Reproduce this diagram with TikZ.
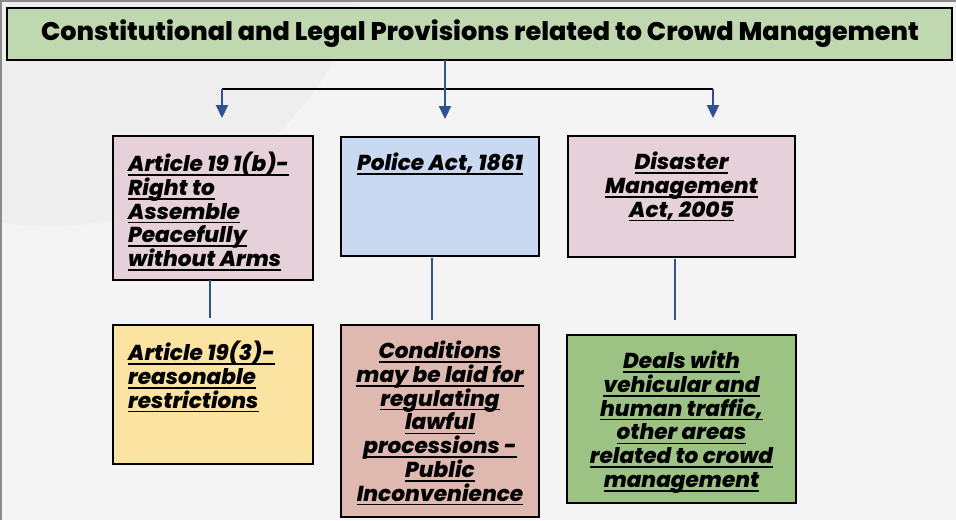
\documentclass[tikz,border=0pt]{standalone}
\usepackage{fontspec}
\setmainfont{Poppins}[BoldFont={Poppins ExtraBold}, BoldItalicFont={Poppins ExtraBold Italic}]
\usetikzlibrary{arrows.meta}
\definecolor{bgc}{HTML}{F4F4F4}
\definecolor{circc}{HTML}{EEEEEE}
\definecolor{framec}{HTML}{8A8A8A}
\definecolor{titlec}{HTML}{BFD8AF}
\definecolor{pinkc}{HTML}{E6D1DB}
\definecolor{bluec}{HTML}{C9D9F1}
\definecolor{yellowc}{HTML}{FBE4A1}
\definecolor{salmonc}{HTML}{DFB9AF}
\definecolor{greenc}{HTML}{9DC384}
\definecolor{arrc}{HTML}{2F5191}
\newsavebox{\ulbox}
\newcommand{\ulw}[1]{\sbox{\ulbox}{#1}\rlap{\rule[-4.2pt]{\wd\ulbox}{1.6pt}}\usebox{\ulbox}}
\tikzset{
  box/.style={draw=black, line width=2.4pt, inner sep=0pt, outer sep=0pt},
  txt/.style={inner sep=0pt, font=\bfseries\itshape\fontsize{21.6}{23.7}\selectfont},
  arr/.style={draw=arrc, line width=2.2pt, -{Triangle[width=12pt,length=13pt]}},
  con/.style={draw=arrc, line width=2.6pt}
}
\begin{document}
\begin{tikzpicture}[x=1pt,y=-1pt]
\useasboundingbox (0,0) rectangle (956,520);
\fill[bgc] (0,0) rectangle (956,520);
\begin{scope}
\clip (0,0) rectangle (956,520);
\fill[circc] (50,-100) circle (326);
\end{scope}
\draw[framec, line width=2pt] (1,520) -- (1,1) -- (956,1);
% title
\node[box, fill=titlec, minimum width=945, minimum height=52] (title) at (479.5,34) {};
\node[inner sep=0pt, font=\bfseries\fontsize{25.5}{28}\selectfont] (titletxt) at (480,34) {Constitutional and Legal Provisions related to Crowd Management};
% top boxes
\node[box, fill=pinkc, minimum width=200, minimum height=144] (a) at (213,208) {};
\node[box, fill=bluec, minimum width=198, minimum height=119] (b) at (440,196.5) {};
\node[box, fill=pinkc, minimum width=227, minimum height=121] (c) at (681.5,196.5) {};
% bottom boxes
\node[box, fill=yellowc, minimum width=200, minimum height=139] (d) at (213,394.5) {};
\node[box, fill=salmonc, minimum width=198, minimum height=192] (e) at (440,421) {};
\node[box, fill=greenc, minimum width=229, minimum height=168] (f) at (681.5,419) {};
% texts
\node[txt, align=left, anchor=north west] (at) at ([xshift=15pt,yshift=-16pt]a.north west)
  {\ulw{Article 19 1(b)-}\\\ulw{Right to}\\\ulw{Assemble}\\\ulw{Peacefully}\\\ulw{without Arms}};
\node[txt, align=center, anchor=north] (bt) at ([yshift=-16pt]b.north)
  {\ulw{Police Act, 1861}};
\node[txt, align=center, anchor=north] (ct) at ([yshift=-16pt]c.north)
  {\ulw{Disaster}\\\ulw{Management}\\\ulw{Act, 2005}};
\node[txt, align=left, anchor=north west] (dt) at ([xshift=15pt,yshift=-16pt]d.north west)
  {\ulw{Article 19(3)-}\\\ulw{reasonable}\\\ulw{restrictions}};
\node[txt, align=center, anchor=north] (et) at ([yshift=-16pt]e.north)
  {\ulw{Conditions}\\\ulw{may be laid for}\\\ulw{regulating}\\\ulw{lawful}\\\ulw{processions -}\\\ulw{Public}\\\ulw{Inconvenience}};
\node[txt, align=center, anchor=north] (ft) at ([yshift=-16pt]f.north)
  {\ulw{Deals with}\\\ulw{vehicular and}\\\ulw{human traffic,}\\\ulw{other areas}\\\ulw{related to crowd}\\\ulw{management}};
% connectors from title
\coordinate (hl) at (222,89);
\coordinate (hr) at (713,89);
\coordinate (tr) at (445,60);
\draw[black, line width=2pt] (hl) -- (hr);
\draw[arr, shorten >=18pt] (tr) -- (tr |- b.north);
\draw[arr, shorten >=18pt] (hl) -- (hl |- a.north);
\draw[arr, shorten >=18pt] (hr) -- (hr |- c.north);
% vertical connectors
\draw[con, shorten >=7pt] ([xshift=-3pt]a.south) -- ([xshift=-3pt]d.north);
\draw[con, shorten <=2pt, shorten >=5pt] ([xshift=-8pt]b.south) -- ([xshift=-8pt]e.north);
\draw[con, shorten <=2pt, shorten >=15pt] ([xshift=-6.5pt]c.south) -- ([xshift=-6.5pt]f.north);
\end{tikzpicture}
\end{document}
